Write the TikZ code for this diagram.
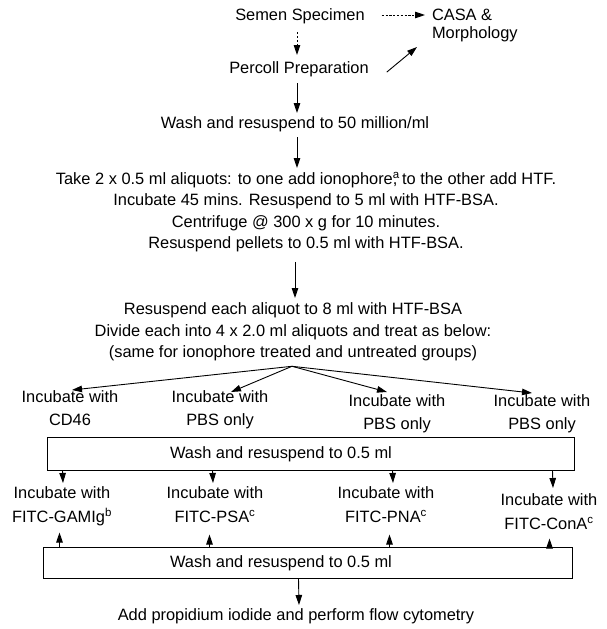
\documentclass[tikz,border=0pt]{standalone}
\usepackage{fontspec}
\setmainfont{Liberation Sans}
\usetikzlibrary{arrows.meta,calc}
\begin{document}
\begin{tikzpicture}[x=1pt,y=-1pt,
  txt/.style={inner sep=0pt,outer sep=0pt,align=center,anchor=north,font=\fontsize{16.4}{21.3}\selectfont},
  lab/.style={txt,font=\fontsize{16.4}{22.5}\selectfont},
  labb/.style={txt,font=\fontsize{16.4}{23.5}\selectfont},
  arr/.style={-{Triangle[length=10pt,width=6.5pt]},line width=0.9pt},
  dsh/.style={arr,dash pattern=on 2.2pt off 1.6pt},
  boxst/.style={draw,line width=1pt,inner sep=0pt}
]
\path[use as bounding box] (0,0) rectangle (607,629);

% top
\node[txt] (semen) at (300,9) {Semen Specimen};
\node[txt,anchor=north west,align=left,font=\fontsize{16.4}{18.5}\selectfont] (casa) at (432,9) {CASA \&\\Morphology};
\node[txt] (percoll) at (299,62) {Percoll Preparation};
\node[txt] (wash50) at (295,117) {Wash and resuspend to 50 million/ml};
\node[txt] (para) at (306,172) {Take 2 x 0.5 ml aliquots: to one add ionophore\rlap{\textsuperscript{a}}, to the other add HTF.\\Incubate 45 mins. Resuspend to 5 ml with HTF-BSA.\\Centrifuge @ 300 x g for 10 minutes.\\Resuspend pellets to 0.5 ml with HTF-BSA.};
\node[txt,font=\fontsize{16.4}{21.5}\selectfont] (divide) at (293,303) {Resuspend each aliquot to 8 ml with HTF-BSA\\Divide each into 4 x 2.0 ml aliquots and treat as below:\\(same for ionophore treated and untreated groups)};

\draw[dsh] ($(semen.north east)+(17,6)$) -- ($(casa.north west)+(-7,6)$);
\draw[dsh] ($(semen.south)+(-3,8)$) -- ($(percoll.north)+(-2,-7)$);
\draw[arr] ($(percoll.east)+(18,2.5)$) -- ($(casa.north west)+(-15,38)$);
\draw[arr] ($(percoll.south)+(-2,6)$) -- ($(wash50.north)+(2,-4)$);
\draw[arr] ($(wash50.south)+(2,5)$) -- ($(para.north)+(-9,-4)$);
\draw[arr] ($(para.south)+(-11,10)$) -- ($(divide.north)+(2,-5)$);

% first row
\coordinate (apex) at ($(divide.south)+(-1,5)$);
\node[lab] (a1) at (70,391) {Incubate with\\CD46};
\node[lab] (a2) at (220,391) {Incubate with\\PBS only};
\node[lab] (a3) at (397,395) {Incubate with\\PBS only};
\node[lab] (a4) at (542,395) {Incubate with\\PBS only};
\draw[arr] (apex) -- ($(a1.north)+(2,-1)$);
\draw[arr] (apex) -- ($(a2.north)+(11,1)$);
\draw[arr] (apex) -- ($(a3.north)+(-10,-3)$);
\draw[arr] (apex) -- ($(a4.north)+(-10,-2)$);

% first box
\node[boxst,minimum width=527pt,minimum height=33pt] (box1) at (310.5,453.5) {};
\node[txt,anchor=center] (w1) at (281,454.5) {Wash and resuspend to 0.5 ml};

% second row
\node[labb] (b1) at (62,487) {Incubate with\\FITC-GAMIg\textsuperscript{b}};
\node[labb] (b2) at (215,487) {Incubate with\\FITC-PSA\textsuperscript{c}};
\node[labb] (b3) at (386,487) {Incubate with\\FITC-PNA\textsuperscript{c}};
\node[labb] (b4) at (549,494) {Incubate with\\FITC-ConA\textsuperscript{c}};
\draw[arr] ($(box1.south west)+(16,0)$) -- ($(b1.north)+(1,-4)$);
\draw[arr] ($(box1.south west)+(166,0)$) -- ($(b2.north)+(-2,-4)$);
\draw[arr] ($(box1.south west)+(346,0)$) -- ($(b3.north)+(7,-4)$);
\draw[arr] ($(box1.south west)+(506,0)$) -- ($(b4.north)+(4,-6)$);

% second box
\node[boxst,minimum width=529pt,minimum height=31pt] (box2) at (307.5,562.5) {};
\node[txt,anchor=center] (w2) at (281,563.5) {Wash and resuspend to 0.5 ml};
\draw[arr] ($(box2.north west)+(17,0)$) -- ($(box2.north west)+(17,-14)$);
\draw[arr] ($(box2.north west)+(167,0)$) -- ($(box2.north west)+(167,-12)$);
\draw[arr] ($(box2.north west)+(347,0)$) -- ($(box2.north west)+(347,-12)$);
\draw[arr] ($(box2.north west)+(507,0)$) -- ($(box2.north west)+(507,-8)$);

% final
\node[txt] (add) at (296,609) {Add propidium iodide and perform flow cytometry};
\draw[arr] ($(box2.south west)+(256,0)$) -- ($(add.north)+(3,-4)$);
\end{tikzpicture}
\end{document}
